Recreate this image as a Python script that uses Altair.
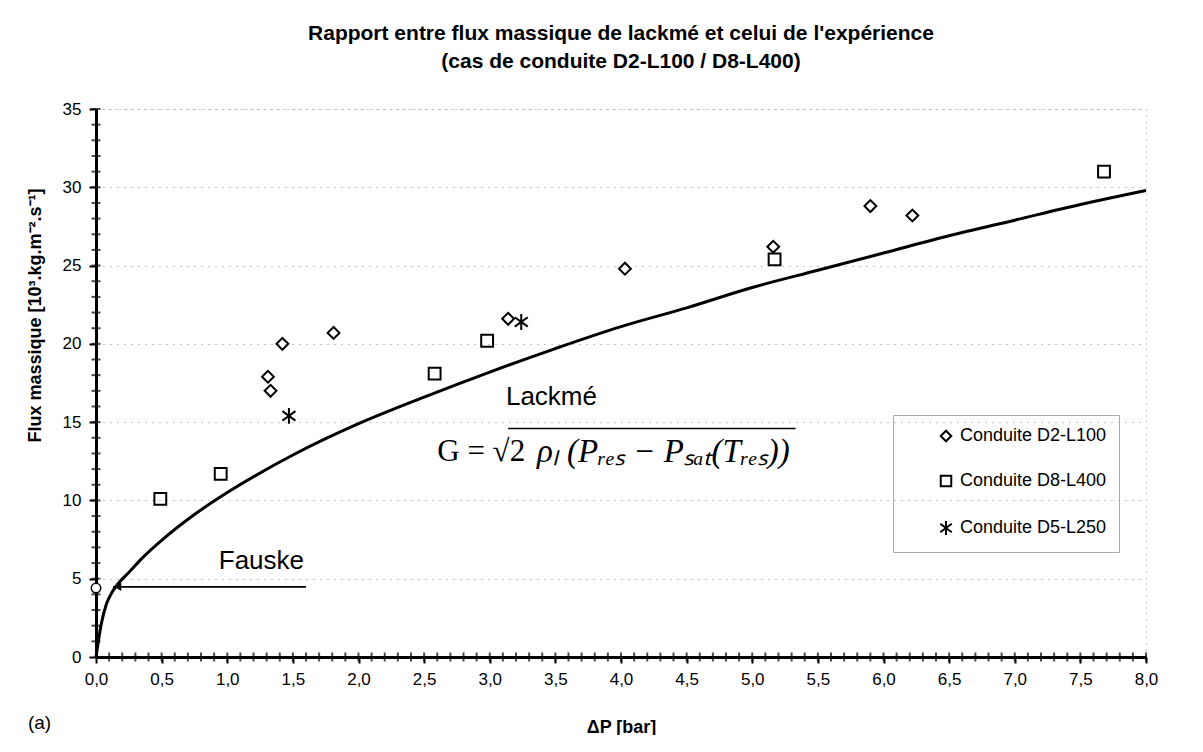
import altair as alt
import pandas as pd

# ---- data ----
d2_x = [1.31, 1.33, 1.42, 1.81, 3.14, 4.03, 5.16, 5.90, 6.22]
d2_y = [17.9, 17.0, 20.0, 20.7, 21.6, 24.8, 26.2, 28.8, 28.2]
d8_x = [0.49, 0.95, 2.58, 2.98, 5.17, 7.68]
d8_y = [10.1, 11.7, 18.1, 20.2, 25.4, 31.0]
d5_x = [1.47, 3.24]
d5_y = [15.4, 21.4]
series_names = ["Conduite D2-L100", "Conduite D8-L400", "Conduite D5-L250"]

# Lackmé curve, points
curve_x = [0.0, 0.04, 0.08, 0.12, 0.17, 0.25, 0.35, 0.5, 0.75, 1.0, 1.5, 2.0, 2.5,
           3.0, 3.5, 4.0, 4.5, 5.0, 5.5, 6.0, 6.5, 7.0, 7.5, 8.0]
curve_y = [0.0, 2.1, 3.4, 4.1, 4.7, 5.4, 6.3, 7.45, 9.1, 10.5, 12.9, 14.9, 16.6,
           18.2, 19.7, 21.1, 22.3, 23.6, 24.7, 25.8, 26.9, 27.9, 28.9, 29.8]

# Fauske: point on the axis + arrow
fauske_x = [0.0]
fauske_y = [4.4]
arrow_x = [0.13, 1.6]
arrow_y = [4.48, 4.48]
arrow_head_x = [0.165]

x_ticks = [0.0, 0.5, 1.0, 1.5, 2.0, 2.5, 3.0, 3.5, 4.0, 4.5, 5.0, 5.5, 6.0, 6.5, 7.0, 7.5, 8.0]
y_ticks = [0, 5, 10, 15, 20, 25, 30, 35]
x_minor = [round(i / 10, 1) for i in range(1, 81)]
y_minor = [i for i in range(1, 36)]

title_lines = ["Rapport entre flux massique de lackmé et celui de l'expérience",
               "(cas de conduite D2-L100 / D8-L400)"]

STAR = "M0,-1.35L0,1.35M-1.1,-0.8L1.1,0.8M-1.1,0.8L1.1,-0.8"

pts = pd.DataFrame({
    "x": d2_x + d8_x + d5_x,
    "y": d2_y + d8_y + d5_y,
    "s": [series_names[0]] * len(d2_x) + [series_names[1]] * len(d8_x) + [series_names[2]] * len(d5_x),
})
curve = pd.DataFrame({"x": curve_x, "y": curve_y})

X = alt.X("x:Q", scale=alt.Scale(domain=[0, 8], nice=False, zero=False),
          axis=alt.Axis(values=x_ticks, title="ΔP [bar]", grid=False, labelFlush=False,
                        labelExpr="replace(format(datum.value, '.1f'), '.', ',')",
                        tickSize=6, labelPadding=8, titleY=70, titleBaseline="middle"))
Y = alt.Y("y:Q", scale=alt.Scale(domain=[0, 35], nice=False, zero=False),
          axis=alt.Axis(values=y_ticks, title="Flux massique [10³.kg.m⁻².s⁻¹]", labelFlush=False,
                        tickSize=7, labelPadding=8, titleX=-61, titleY=206,
                        titleBaseline="middle", titleAngle=-90,
                        gridColor="#888", gridDash=[1, 6], gridWidth=1))

line = alt.Chart(curve).mark_line(color="black", strokeWidth=3, interpolate="monotone").encode(x=X, y=Y)

points = alt.Chart(pts).mark_point(filled=False, strokeWidth=2, size=140, opacity=1).encode(
    x="x:Q", y="y:Q",
    shape=alt.Shape("s:N", scale=alt.Scale(domain=series_names, range=["diamond", "square", STAR]),
                    legend=alt.Legend(title=None, orient="none", legendX=797, legendY=306,
                                      labelFont="Liberation Sans", labelFontSize=18,
                                      labelColor="black", symbolSize=110, symbolStrokeWidth=2,
                                      symbolStrokeColor="black", symbolFillColor="transparent",
                                      rowPadding=25, padding=12, symbolOffset=32, labelOffset=5,
                                      strokeColor="#aaa")),
    color=alt.value("black"),
)

xm = pd.DataFrame({"x": x_minor, "y": [0] * len(x_minor)})
ym = pd.DataFrame({"x": [0] * len(y_minor), "y": y_minor})
xminor = alt.Chart(xm).mark_tick(color="black", orient="vertical", size=9, thickness=2).encode(x="x:Q", y="y:Q")
yminor = alt.Chart(ym).mark_tick(color="black", orient="horizontal", size=9, thickness=2).encode(x="x:Q", y="y:Q")

arrow = alt.Chart(pd.DataFrame({"x": arrow_x, "y": arrow_y})).mark_line(color="black", strokeWidth=1.6).encode(x="x:Q", y="y:Q")
head = alt.Chart(pd.DataFrame({"x": arrow_head_x, "y": [arrow_y[0]]})).mark_point(
    shape="triangle-left", filled=True, color="black", size=70, opacity=1).encode(x="x:Q", y="y:Q")
circ = alt.Chart(pd.DataFrame({"x": fauske_x, "y": fauske_y})).mark_point(
    shape="circle", filled=True, fill="white", stroke="black", strokeWidth=1.5, size=90, opacity=1).encode(x="x:Q", y="y:Q")

# annotations (data units)
ann_sans = pd.DataFrame({"x": [3.47, 1.26], "y": [16.6, 6.1], "t": ["Lackmé", "Fauske"]})
t_sans = alt.Chart(ann_sans).mark_text(font="Liberation Sans", fontSize=26, color="black",
                                       align="center", baseline="middle").encode(x="x:Q", y="y:Q", text="t:N")
ann_a = pd.DataFrame({"x": [-0.43], "y": [-4.2], "t": ["(a)"]})
t_a = alt.Chart(ann_a).mark_text(font="Liberation Sans", fontSize=19, color="black",
                                 align="center", baseline="middle").encode(x="x:Q", y="y:Q", text="t:N")
ann_g = pd.DataFrame({"x": [2.6], "y": [13.1], "t": ["G = √2"]})
t_g = alt.Chart(ann_g).mark_text(font="Liberation Serif", fontSize=31, color="black",
                                 align="left", baseline="middle").encode(x="x:Q", y="y:Q", text="t:N")
ann_f = pd.DataFrame({"x": [3.36], "y": [13.1], "t": ["ρₗ (Pᵣₑₛ − Pₛₐₜ(Tᵣₑₛ))"]})
t_f = alt.Chart(ann_f).mark_text(font="Liberation Serif", fontSize=33, fontStyle="italic", color="black",
                                 align="left", baseline="middle").encode(x="x:Q", y="y:Q", text="t:N")
bar = alt.Chart(pd.DataFrame({"x": [3.14], "x2": [5.33], "y": [14.6]})).mark_rule(
    color="black", strokeWidth=1.5).encode(x="x:Q", x2="x2:Q", y="y:Q")

chart = alt.layer(line, arrow, head, circ, points, xminor, yminor, t_sans, t_a, t_g, t_f, bar).properties(
    width=1050, height=548,
    background="white",
    autosize=alt.AutoSizeParams(type="none"),
    padding={"left": 88, "top": 101, "right": 49, "bottom": 78},
    title=alt.Title(title_lines, font="Liberation Sans", fontSize=21, fontWeight="bold",
                    color="black", anchor="middle", offset=28, lineHeight=28),
).configure_view(stroke="#999", strokeDash=[1, 5]).configure_axis(
    domainColor="black", domainWidth=3, tickColor="black", tickWidth=2,
    labelFont="Liberation Sans", labelFontSize=17, labelColor="black",
    titleFont="Liberation Sans", titleFontSize=18, titleFontWeight="bold", titleColor="black",
)

chart.save("out.html", embed_options={"renderer": "svg", "actions": False})
